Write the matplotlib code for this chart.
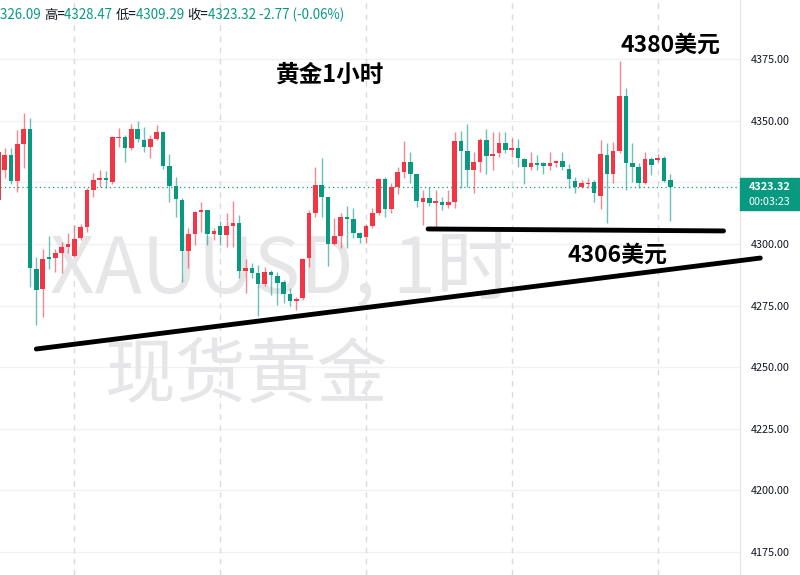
import matplotlib
matplotlib.use('Agg')
import matplotlib.pyplot as plt
import matplotlib.transforms as mtransforms
from matplotlib.patches import Rectangle
from matplotlib.ticker import FuncFormatter

plt.rcParams['font.family'] = ['Noto Sans CJK SC', 'DejaVu Sans']

# XAUUSD 1h candles
opens = [4317.9, 4330.0, 4336.1, 4325.6, 4340.6, 4346.7, 4289.9, 4281.7, 4294.7, 4294.3,
         4296.3, 4298.8, 4295.1, 4302.4, 4306.9, 4321.9, 4326.0, 4326.8, 4325.2, 4343.0,
         4343.4, 4338.9, 4346.7, 4342.2, 4339.4, 4342.6, 4345.4, 4331.6, 4323.5, 4317.9,
         4297.2, 4304.1, 4313.0, 4313.8, 4304.1, 4307.3, 4303.7, 4307.3, 4308.5, 4289.0,
         4290.3, 4288.2, 4283.8, 4288.6, 4287.0, 4284.6, 4279.7, 4276.9, 4278.1, 4294.3,
         4312.6, 4323.9, 4319.1, 4300.0, 4303.2, 4311.0, 4310.1, 4304.5, 4302.8, 4307.3,
         4312.6, 4326.4, 4314.2, 4323.1, 4329.2, 4333.3, 4328.4, 4317.0, 4318.7, 4316.6,
         4317.0, 4315.8, 4317.0, 4341.8, 4337.7, 4330.0, 4333.3, 4342.2, 4335.7, 4336.9,
         4341.0, 4338.1, 4338.9, 4334.5, 4331.2, 4332.9, 4332.9, 4331.6, 4332.9, 4333.7,
         4330.4, 4325.6, 4323.1, 4324.3, 4325.2, 4319.5, 4336.1, 4328.4, 4337.7, 4360.0,
         4332.9, 4331.2, 4324.7, 4334.5, 4334.1, 4334.9, 4326.09]
highs = [4338.9, 4338.9, 4338.9, 4346.2, 4353.1, 4351.1, 4294.7, 4298.0, 4303.2, 4298.0,
         4300.8, 4304.5, 4307.7, 4308.1, 4322.7, 4328.8, 4330.0, 4329.6, 4343.8, 4347.1,
         4344.2, 4348.7, 4349.9, 4347.5, 4344.2, 4348.3, 4345.8, 4336.5, 4327.2, 4318.7,
         4306.5, 4313.4, 4317.0, 4313.8, 4306.5, 4309.3, 4312.6, 4317.4, 4311.8, 4293.9,
         4292.3, 4291.5, 4290.7, 4289.5, 4288.6, 4285.4, 4282.1, 4278.5, 4294.3, 4313.8,
         4331.2, 4334.9, 4319.1, 4310.5, 4312.6, 4315.4, 4314.6, 4304.9, 4308.1, 4314.6,
         4326.8, 4327.2, 4324.7, 4331.2, 4341.8, 4337.3, 4328.4, 4321.9, 4323.1, 4321.9,
         4319.1, 4321.9, 4345.4, 4345.8, 4348.7, 4337.3, 4343.0, 4346.7, 4345.4, 4345.4,
         4345.4, 4343.0, 4342.6, 4334.9, 4337.3, 4336.1, 4333.3, 4337.3, 4334.1, 4337.3,
         4332.5, 4327.2, 4326.0, 4326.8, 4326.0, 4342.2, 4341.0, 4341.4, 4374.2, 4363.3,
         4341.0, 4332.9, 4337.3, 4335.3, 4336.5, 4335.7, 4328.47]
lows = [4315.8, 4326.8, 4324.3, 4321.1, 4330.8, 4282.6, 4267.1, 4270.4, 4289.9, 4288.6,
        4288.2, 4296.3, 4294.7, 4301.6, 4304.9, 4319.1, 4323.1, 4322.7, 4324.3, 4339.4,
        4333.3, 4338.1, 4341.4, 4337.3, 4334.9, 4342.2, 4330.4, 4317.0, 4311.0, 4284.6,
        4290.3, 4299.6, 4304.9, 4299.6, 4301.6, 4299.6, 4298.8, 4298.8, 4286.2, 4280.1,
        4286.2, 4270.8, 4283.0, 4279.3, 4275.3, 4276.1, 4274.8, 4273.2, 4277.3, 4290.7,
        4311.0, 4311.0, 4291.1, 4299.6, 4298.4, 4298.4, 4302.4, 4300.4, 4300.4, 4306.5,
        4311.8, 4311.0, 4312.6, 4320.3, 4326.8, 4324.7, 4315.0, 4307.7, 4315.4, 4306.9,
        4313.8, 4314.6, 4314.6, 4322.7, 4323.1, 4320.7, 4329.2, 4328.4, 4330.0, 4335.3,
        4336.9, 4335.3, 4331.2, 4324.3, 4330.0, 4330.0, 4328.4, 4330.0, 4331.2, 4330.0,
        4322.7, 4320.7, 4322.7, 4322.7, 4317.0, 4314.2, 4308.5, 4324.7, 4336.9, 4321.9,
        4325.2, 4322.7, 4324.3, 4328.0, 4333.3, 4325.2, 4309.29]
closes = [4337.3, 4336.1, 4325.6, 4340.6, 4346.7, 4290.3, 4281.3, 4293.9, 4293.9, 4296.3,
          4298.8, 4300.0, 4302.0, 4306.9, 4321.9, 4326.0, 4326.8, 4326.0, 4343.4, 4343.4,
          4338.9, 4346.7, 4342.6, 4339.4, 4342.6, 4345.4, 4331.6, 4323.5, 4318.3, 4297.2,
          4304.1, 4313.0, 4313.8, 4304.1, 4305.3, 4303.7, 4307.3, 4308.5, 4289.0, 4290.3,
          4288.2, 4283.8, 4288.6, 4287.4, 4284.2, 4279.7, 4276.9, 4277.7, 4293.9, 4312.6,
          4323.9, 4319.1, 4300.0, 4303.2, 4311.0, 4310.1, 4304.5, 4302.4, 4307.3, 4312.6,
          4326.4, 4314.2, 4323.1, 4329.2, 4333.3, 4328.4, 4317.4, 4318.7, 4316.6, 4317.4,
          4315.8, 4317.0, 4341.8, 4337.7, 4330.0, 4333.3, 4342.2, 4335.7, 4336.5, 4341.0,
          4338.1, 4338.9, 4334.9, 4331.2, 4332.9, 4332.1, 4331.6, 4332.9, 4333.7, 4331.2,
          4326.4, 4323.1, 4324.7, 4324.7, 4320.7, 4336.5, 4328.4, 4337.7, 4360.0, 4332.9,
          4331.2, 4324.7, 4334.5, 4332.1, 4334.9, 4325.6, 4323.32]

last_price = 4323.32
price_ticks = [4175, 4200, 4225, 4250, 4275, 4300, 4325, 4350, 4375]
session_breaks = [12, 35, 58, 81, 104]

# hand drawn lines on the chart (bar index, price)
trend_x = [6.0, 120.2]
trend_y = [4257.4, 4294.3]
support_x = [67.8, 114.4]
support_y = [4306.1, 4305.3]

up_col = '#f23645'
down_col = '#089981'

fig = plt.figure(figsize=(8, 5.75), dpi=100)
ax = fig.add_axes([0, 0, 0.925, 1])
ax.set_xlim(0.27, 117.0)
ax.set_ylim(4165.7, 4399.0)

for p in price_ticks:
    ax.axhline(p, color='#f0f1f4', lw=1, zorder=0)
for b in session_breaks:
    ax.axvline(b, color='#d9dbe0', lw=1, ls=(0, (4, 4)), zorder=0)

# watermark
ax.text(0.068, 0.53, 'XAUUSD, 1时', transform=ax.transAxes, fontsize=56,
        color='#e6e6e8', va='center', ha='left', zorder=0)
ax.text(0.142, 0.345, '现货黄金', transform=ax.transAxes, fontsize=51,
        color='#e6e6e8', va='center', ha='left', zorder=0)

# candles
for i in range(len(opens)):
    o, h, l, c = opens[i], highs[i], lows[i], closes[i]
    col = up_col if c >= o else down_col
    ax.vlines(i, l, h, color=col, lw=1, alpha=0.6, zorder=2)
    body = max(abs(c - o), 0.6)
    ax.bar(i, body, bottom=min(o, c), width=0.72, color=col, zorder=3)

ax.axhline(last_price, color=down_col, lw=0.9, ls=(0, (1, 2.5)), zorder=1)

# hand drawn lines
ax.plot(trend_x, trend_y, color='black', lw=3.5, solid_capstyle='round',
        clip_on=False, zorder=6)
ax.plot(support_x, support_y, color='black', lw=3.5, solid_capstyle='round', zorder=6)

ax.text(52.3, 4368.6, '黄金1小时', fontsize=17, fontweight='bold', ha='center', va='center')
ax.text(106.0, 4380.7, '4380美元', fontsize=16.5, fontweight='bold', ha='center', va='center')
ax.text(97.6, 4295.5, '4306美元', fontsize=16.5, fontweight='bold', ha='center', va='center')

# right price scale
ax.yaxis.tick_right()
ax.set_yticks(price_ticks)
ax.yaxis.set_major_formatter(FuncFormatter(lambda v, pos: '' if v == 4325 else f'{v:.2f}'))
ax.tick_params(axis='y', length=0, pad=8, labelsize=7.8, labelcolor='#131722')
ax.set_xticks([])
for s in ['top', 'left', 'bottom']:
    ax.spines[s].set_visible(False)
ax.spines['right'].set_color('#e0e3eb')

# last price label
trans = mtransforms.blended_transform_factory(ax.transAxes, ax.transData)
ax.add_patch(Rectangle((1.0, 4313.8), 0.081, 13.0, transform=trans,
                       color=down_col, clip_on=False, zorder=7))
ax.text(1.04, 4323.32, '4323.32', transform=trans, color='white', fontsize=7.8,
        ha='center', va='center', clip_on=False, zorder=8, fontweight='bold')
ax.text(1.04, 4316.9, '00:03:23', transform=trans, color='white', fontsize=7.8,
        ha='center', va='center', clip_on=False, zorder=8)

# header legend
parts = [('326.09 ', down_col), ('高=', '#131722'), ('4328.47 ', down_col),
         ('低=', '#131722'), ('4309.29 ', down_col), ('收=', '#131722'),
         ('4323.32 -2.77 (-0.06%)', down_col)]
x = 0.0
renderer = fig.canvas.get_renderer()
for s, col in parts:
    t = fig.text(x, 1 - 15 / 575, s, color=col, fontsize=9.6, va='center', ha='left')
    bb = t.get_window_extent(renderer=renderer)
    x += bb.width / fig.bbox.width

fig.savefig('out.png', dpi=100)
